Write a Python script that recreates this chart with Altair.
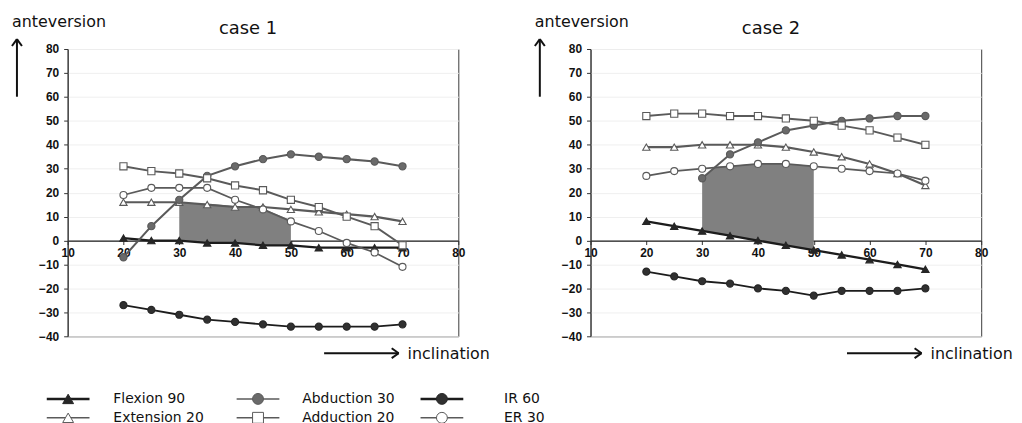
import altair as alt
import pandas as pd

# ---------------- data ----------------
inclination = [20, 25, 30, 35, 40, 45, 50, 55, 60, 65, 70]
series_names = ["Flexion 90", "Extension 20", "Abduction 30", "Adduction 20", "IR 60", "ER 30"]

# case 1
flexion_1 = [1, 0, 0, -1, -1, -2, -2, -3, -3, -3, -3]
extension_1 = [16, 16, 16, 15, 14, 14, 13, 12, 11, 10, 8]
abduction_1 = [-7, 6, 17, 27, 31, 34, 36, 35, 34, 33, 31]
adduction_1 = [31, 29, 28, 26, 23, 21, 17, 14, 10, 6, -2]
ir_1 = [-27, -29, -31, -33, -34, -35, -36, -36, -36, -36, -35]
er_1 = [19, 22, 22, 22, 17, 13, 8, 4, -1, -5, -11]

# case 2
flexion_2 = [8, 6, 4, 2, 0, -2, -4, -6, -8, -10, -12]
extension_2 = [39, 39, 40, 40, 40, 39, 37, 35, 32, 28, 23]
abduction_2 = [None, None, 26, 36, 41, 46, 48, 50, 51, 52, 52]
adduction_2 = [52, 53, 53, 52, 52, 51, 50, 48, 46, 43, 40]
ir_2 = [-13, -15, -17, -18, -20, -21, -23, -21, -21, -21, -20]
er_2 = [27, 29, 30, 31, 32, 32, 31, 30, 29, 28, 25]

# shaded safe zones
shade1_x = [30, 35, 40, 45, 50]
shade1_top = [16, 15.4, 14.4, 13.4, 8.5]
shade1_bottom = [0, -1, -1, -2, -2]
shade2_x = [30, 32.5, 35, 40, 45, 50]
shade2_top = [26, 30.8, 31.2, 32.1, 32.1, 31.2]
shade2_bottom = [4, 3, 2, 0, -2, -4]

# ---------------- styling ----------------
line_colors = ["#1c1c1c", "#5a5a5a", "#5a5a5a", "#5a5a5a", "#1c1c1c", "#5a5a5a"]
line_widths = [2.3, 1.7, 1.7, 1.7, 2.3, 1.7]
shapes = ["triangle-up", "triangle-up", "circle", "square", "circle", "circle"]
fills = ["#262626", "#ffffff", "#6a6a6a", "#ffffff", "#303030", "#ffffff"]
strokes = ["#262626", "#5a5a5a", "#5a5a5a", "#5a5a5a", "#262626", "#5a5a5a"]
sizes = [55, 50, 55, 50, 55, 55]

W, H = 393, 289
FONT = "DejaVu Sans"


def long_df(cols):
    rows = []
    for name, vals in zip(series_names, cols):
        for xv, yv in zip(inclination, vals):
            if yv is not None:
                rows.append({"x": xv, "y": yv, "series": name})
    return pd.DataFrame(rows)


df1 = long_df([flexion_1, extension_1, abduction_1, adduction_1, ir_1, er_1])
df2 = long_df([flexion_2, extension_2, abduction_2, adduction_2, ir_2, er_2])
sh1 = pd.DataFrame({"x": shade1_x, "top": shade1_top, "bottom": shade1_bottom})
sh2 = pd.DataFrame({"x": shade2_x, "top": shade2_top, "bottom": shade2_bottom})

xscale = alt.Scale(domain=[10, 80], nice=False, zero=False)
yscale = alt.Scale(domain=[-40, 80], nice=False, zero=False)

xaxis = alt.Axis(values=list(range(10, 81, 10)), title=None, grid=False,
                 offset=-H * 40 / 120, tickSize=4, labelPadding=3,
                 labelFlush=False, labelOverlap=False, labelFontWeight="bold",
                 domainColor="#1a1a1a", domainWidth=1.3)
yaxis = alt.Axis(values=list(range(-40, 81, 10)), title=None, grid=True,
                 gridColor="#efefef", tickSize=4, labelPadding=5,
                 labelFontWeight="bold", domainColor="#333")


def one(s=""):
    return pd.DataFrame({"t": [s]})


def text(s, x, y, size, align="left", baseline="alphabetic"):
    return alt.Chart(one(s)).mark_text(
        align=align, baseline=baseline, fontSize=size, font=FONT, color="#111"
    ).encode(x=alt.value(x), y=alt.value(y), text="t:N")


def seg(x1, y1, x2, y2, color="#111", width=2):
    return alt.Chart(one()).mark_rule(color=color, strokeWidth=width).encode(
        x=alt.value(x1), y=alt.value(y1), x2=alt.value(x2), y2=alt.value(y2))


def panel(df, sh, title, with_legend):
    area = alt.Chart(sh).mark_area(color="#808080", opacity=1).encode(
        x=alt.X("x:Q", scale=xscale, axis=xaxis),
        y=alt.Y("top:Q", scale=yscale, axis=yaxis),
        y2="bottom:Q")
    lines = alt.Chart(df).mark_line().encode(
        x=alt.X("x:Q", scale=xscale, axis=xaxis),
        y=alt.Y("y:Q", scale=yscale, axis=yaxis),
        color=alt.Color("series:N", scale=alt.Scale(domain=series_names, range=line_colors), legend=None),
        strokeWidth=alt.StrokeWidth("series:N", scale=alt.Scale(domain=series_names, range=line_widths), legend=None),
        detail="series:N")
    points = alt.Chart(df).mark_point(filled=True, opacity=1, strokeWidth=1.1).encode(
        x=alt.X("x:Q", scale=xscale, axis=xaxis),
        y=alt.Y("y:Q", scale=yscale, axis=yaxis),
        shape=alt.Shape("series:N", scale=alt.Scale(domain=series_names, range=shapes), legend=None),
        fill=alt.Fill("series:N", scale=alt.Scale(domain=series_names, range=fills), legend=None),
        stroke=alt.Stroke("series:N", scale=alt.Scale(domain=series_names, range=strokes), legend=None),
        size=alt.Size("series:N", scale=alt.Scale(domain=series_names, range=sizes), legend=None))

    ann = [
        text(title, W / 2 - 15, -15, 18, align="center"),
        text("anteversion", -56, -22, 16),
        seg(-51, -10, -51, 48),
        seg(-51, -10, -56, -3),
        seg(-51, -10, -46, -3),
        seg(258, 306, 333, 306),
        seg(333, 306, 326, 301),
        seg(333, 306, 326, 311),
        text("inclination", 342, 312, 16),
    ]

    legend = []
    if with_legend:
        col_x0 = [-21, 170, 355]
        text_x = [46, 236, 439]
        row_y = [352, 371]
        for i, name in enumerate(series_names):
            c, r = i // 2, i % 2
            x0 = col_x0[c]
            yy = row_y[r]
            legend.append(seg(x0, yy, x0 + 43, yy, color=line_colors[i],
                              width=2.6 if line_widths[i] > 2 else 1.5))
            legend.append(alt.Chart(one()).mark_point(
                shape=shapes[i], filled=True, fill=fills[i], stroke=strokes[i],
                strokeWidth=1, size=120, opacity=1
            ).encode(x=alt.value(x0 + 21.5), y=alt.value(yy)))
            legend.append(text(name, text_x[c], yy, 14, baseline="middle"))

    return alt.layer(area, lines, points, *ann, *legend).properties(width=W, height=H)


p1 = panel(df1, sh1, "case 1", True)
p2 = panel(df2, sh2, "case 2", False)

chart = alt.hconcat(p1, p2, spacing=133, bounds="flush").properties(
    padding={"left": 2, "top": 4, "right": 0, "bottom": 0}
).configure_view(stroke="#3a3a3a", strokeWidth=1).configure_axis(
    labelFont="Liberation Sans", labelFontSize=12, labelColor="#111",
    tickColor="#333")

chart.save("out.html", embed_options={"renderer": "svg", "actions": False})
